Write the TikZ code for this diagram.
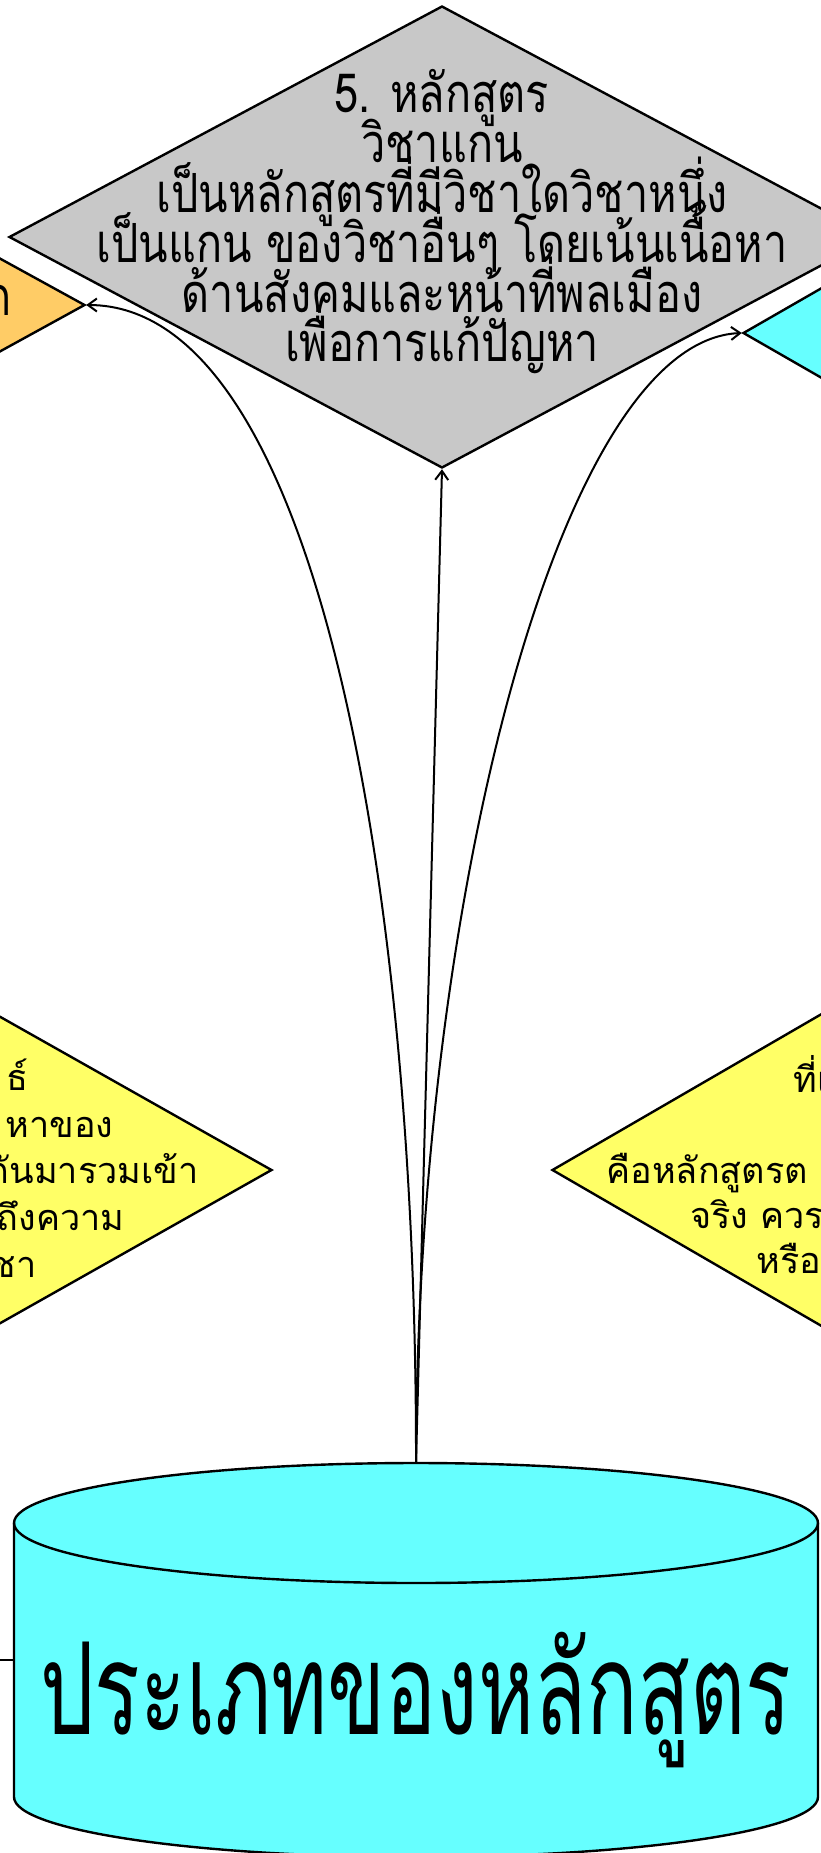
\documentclass[tikz,border=0pt]{standalone}
\usepackage{fontspec}
\usetikzlibrary{shapes.geometric,arrows.meta}
\newfontfamily\thaifont[Script=Thai]{Loma}
\newfontfamily\thainarrow[Script=Thai,FakeStretch=0.8]{Loma}
\newfontfamily\thaitall[Script=Thai,FakeStretch=0.665]{Loma}
\definecolor{coregray}{RGB}{200,200,200}
\definecolor{actorange}{RGB}{255,204,102}
\definecolor{lifecyan}{RGB}{102,255,255}
\definecolor{corryellow}{RGB}{255,255,102}
\begin{document}
\begin{tikzpicture}[x=1pt, y=-1pt, >={Straight Barb[length=9pt,width=13pt]},
    kind/.style={diamond, draw, line width=2.4pt, inner sep=0pt},
    kindtext/.style={font=\thainarrow\fontsize{54}{50}\selectfont},
    sidetext/.style={font=\thaifont\fontsize{36}{47}\selectfont},
    link/.style={->, line width=2pt}]
  \path[use as bounding box, clip] (0,0) rectangle (821,1853);
  \fill[white] (0,0) rectangle (821,1853);
  \node[kind, fill=actorange, minimum width=800pt, minimum height=440pt] (act) at (-315,305) {};
  \node[kind, fill=lifecyan, minimum width=800pt, minimum height=460pt] (life) at (1143,333) {};
  \node[kind, fill=coregray, minimum width=866pt, minimum height=462pt] (core) at (442,237) {};
  \foreach \by/\ln in {112/5. หลักสูตร, 162/วิชาแกน, 212/เป็นหลักสูตรที่มีวิชาใดวิชาหนึ่ง,
      262/เป็นแกน ของวิชาอื่นๆ โดยเน้นเนื้อหา, 312/ด้านสังคมและหน้าที่พลเมือง, 361/เพื่อการแก้ปัญหา}
    \node[kindtext, anchor=base] (core-\by) at (442,\by) {\ln};
  \node[kindtext, anchor=base east] (acttext) at (15,315) {ก};
  \node[kind, fill=corryellow, minimum width=660pt, minimum height=373pt] (corr) at (-58,1170) {};
  \foreach \ex/\by/\ln in {32/1090/ธ์, 117/1137/หาของ, 202/1183/กันมารวมเข้า, 128/1230/ถึงความ, 40/1277/ชา}
    \node[sidetext, anchor=base east] (corr-\by) at (\ex,\by) {\ln};
  \node[kind, fill=corryellow, minimum width=660pt, minimum height=383pt] (real) at (882,1170) {};
  \foreach \sx/\by/\ln in {790/1092/ที่เ, 603/1183/คือหลักสูตรต, 687/1228/จริง ควรเ, 753/1273/หรือ}
    \node[sidetext, anchor=base west] (real-\by) at (\sx,\by) {\ln};
  \fill[lifecyan] (14,1523) -- (14,1797) arc[start angle=180, end angle=360, x radius=402pt, y radius=60pt]
    -- (818,1523) arc[start angle=0, end angle=180, x radius=402pt, y radius=60pt] -- cycle;
  \draw[line width=2.4pt] (14,1523) -- (14,1797) arc[start angle=180, end angle=360, x radius=402pt, y radius=60pt]
    -- (818,1523);
  \draw[line width=2.4pt] (416,1523) ellipse[x radius=402pt, y radius=60pt];
  \node[font=\thaitall\fontsize{128}{130}\selectfont] (types) at (416,1700) {ประเภทของหลักสูตร};
  \coordinate (typestop) at (416,1463);
  \coordinate (typeswest) at (14,1660);
  \coordinate (offleft) at (-40,1660);
  \draw[line width=2pt] (typeswest) -- (offleft);
  \draw[link] (typestop) .. controls (417,900) and (320,305) .. (act.east);
  \draw[link] (typestop) -- (core.south);
  \draw[link] (typestop) .. controls (417,900) and (560,340) .. (life.west);
\end{tikzpicture}
\end{document}
